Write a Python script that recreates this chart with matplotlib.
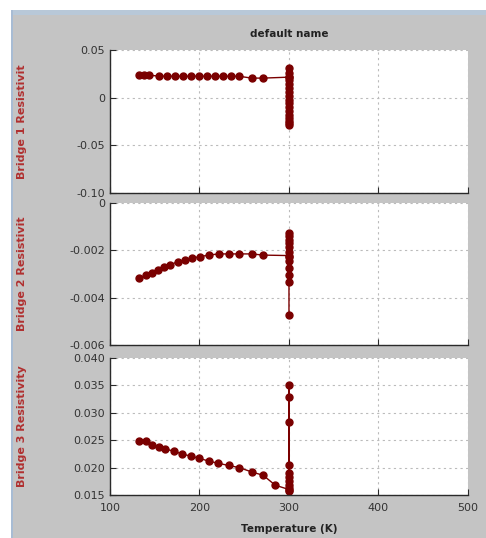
import numpy as np
import matplotlib.pyplot as plt
from matplotlib.patches import Rectangle

# Bridge 1: temperature sweep, then readings held at 300 K
temp1 = [132.8, 138.3, 143.9, 155.1, 164.0, 173.0, 181.9, 190.8, 199.7,
         208.7, 217.6, 226.6, 235.5, 244.4, 258.3, 271.2]
res1 = [0.0236, 0.0236, 0.0235, 0.0226, 0.0225, 0.0225, 0.0225, 0.0225, 0.0225,
        0.0225, 0.0225, 0.0225, 0.0225, 0.0224, 0.0205, 0.0205]
hold1 = [0.0215, 0.031, 0.026, 0.022, 0.018, 0.014, 0.010, 0.006, 0.002, -0.002,
         -0.006, -0.010, -0.014, -0.018, -0.021, -0.024, -0.027, -0.029]

# Bridge 2
temp2 = [132.8, 139.8, 146.6, 153.3, 160.0, 167.3, 175.6, 183.6, 191.8,
         201.0, 210.3, 221.3, 232.5, 244.4, 258.3, 271.2]
res2 = [-0.00318, -0.00305, -0.00294, -0.00282, -0.00272, -0.00261, -0.00248, -0.00240,
        -0.00233, -0.00226, -0.00220, -0.00215, -0.00215, -0.00215, -0.00215, -0.00220]
hold2 = [-0.00222, -0.00127, -0.00141, -0.00155, -0.00169, -0.00186, -0.00205, -0.00226,
         -0.00247, -0.00275, -0.00303, -0.00332, -0.00473]

# Bridge 3
temp3 = [132.8, 139.8, 146.9, 154.4, 161.8, 171.2, 180.4, 190.1, 199.7,
         210.2, 220.6, 232.5, 244.4, 258.6, 271.2, 284.6]
res3 = [0.0249, 0.0248, 0.0242, 0.0237, 0.0234, 0.0230, 0.0225, 0.0221, 0.0217,
        0.0212, 0.0208, 0.0204, 0.0200, 0.0192, 0.0186, 0.0168]
hold3 = [0.0160, 0.0351, 0.0328, 0.0283, 0.0204, 0.0191, 0.0183, 0.0176, 0.0169,
         0.0163, 0.0158]

hold_temp = 300

ylabels = ['Bridge 1 Resistivit', 'Bridge 2 Resistivit', 'Bridge 3 Resistivity']
ylims = [(-0.10, 0.05), (-0.006, 0), (0.015, 0.040)]
yticks = [[-0.10, -0.05, 0, 0.05],
          [-0.006, -0.004, -0.002, 0],
          [0.015, 0.020, 0.025, 0.030, 0.035, 0.040]]
yticklabels = [['-0.10', '-0.05', '0', '0.05'],
               ['-0.006', '-0.004', '-0.002', '0'],
               ['0.015', '0.020', '0.025', '0.030', '0.035', '0.040']]
xticks = [100, 200, 300, 400, 500]

panel = '#c4c4c4'
red = '#7a0000'

fig = plt.figure(figsize=(4.86, 5.38), dpi=100, facecolor=panel)

# window chrome from the screenshot
fig.patches.append(Rectangle((0, 0.982), 1, 0.018, transform=fig.transFigure,
                             facecolor='white', edgecolor='none', zorder=0))
fig.patches.append(Rectangle((0.0226, 0.972), 0.978, 0.01, transform=fig.transFigure,
                             facecolor='#b8c8d8', edgecolor='none', zorder=0))
fig.patches.append(Rectangle((0, 0), 0.0226, 0.982, transform=fig.transFigure,
                             facecolor='white', edgecolor='none', zorder=0))
fig.patches.append(Rectangle((0.0226, 0), 0.005, 0.982, transform=fig.transFigure,
                             facecolor='#a8bcd4', edgecolor='none', zorder=0))

positions = [[0.2263, 0.6413, 0.7366, 0.2658],
             [0.2263, 0.3587, 0.7366, 0.2639],
             [0.2263, 0.0799, 0.7366, 0.2546]]

series = [(temp1, res1, hold1), (temp2, res2, hold2), (temp3, res3, hold3)]

for i, (t, r, h) in enumerate(series):
    ax = fig.add_axes(positions[i])
    ax.set_facecolor('white')
    x = list(t) + [hold_temp] * len(h)
    y = list(r) + list(h)
    ax.plot(x, y, '-o', color=red, markersize=5, linewidth=1.0,
            markerfacecolor=red, markeredgecolor=red)
    ax.set_xlim(100, 500)
    ax.set_ylim(*ylims[i])
    ax.set_xticks(xticks)
    ax.set_yticks(yticks[i])
    ax.set_yticklabels(yticklabels[i])
    ax.grid(True, color='#bbbbbb', linestyle=(0, (2, 3)), linewidth=0.8)
    ax.spines['top'].set_visible(False)
    ax.spines['right'].set_visible(False)
    for s in ('left', 'bottom'):
        ax.spines[s].set_color('#2a2a2a')
        ax.spines[s].set_linewidth(1.0)
    ax.tick_params(direction='in', length=4, colors='#2a2a2a', labelsize=8,
                   labelcolor='#333333')
    ax.set_ylabel(ylabels[i], color='#b03030', fontsize=8, fontweight='bold')
    ax.yaxis.set_label_coords(-0.232, 0.5)
    if i < 2:
        ax.tick_params(labelbottom=False)
    else:
        ax.tick_params(axis='x', pad=6)
        ax.set_xlabel('Temperature (K)', fontsize=7.5, fontweight='bold',
                      color='#222222', labelpad=8)
    if i == 0:
        ax.set_title('default name', fontsize=7.5, fontweight='bold', color='#222222', pad=9)

fig.savefig('out.png', dpi=100, facecolor=panel)
